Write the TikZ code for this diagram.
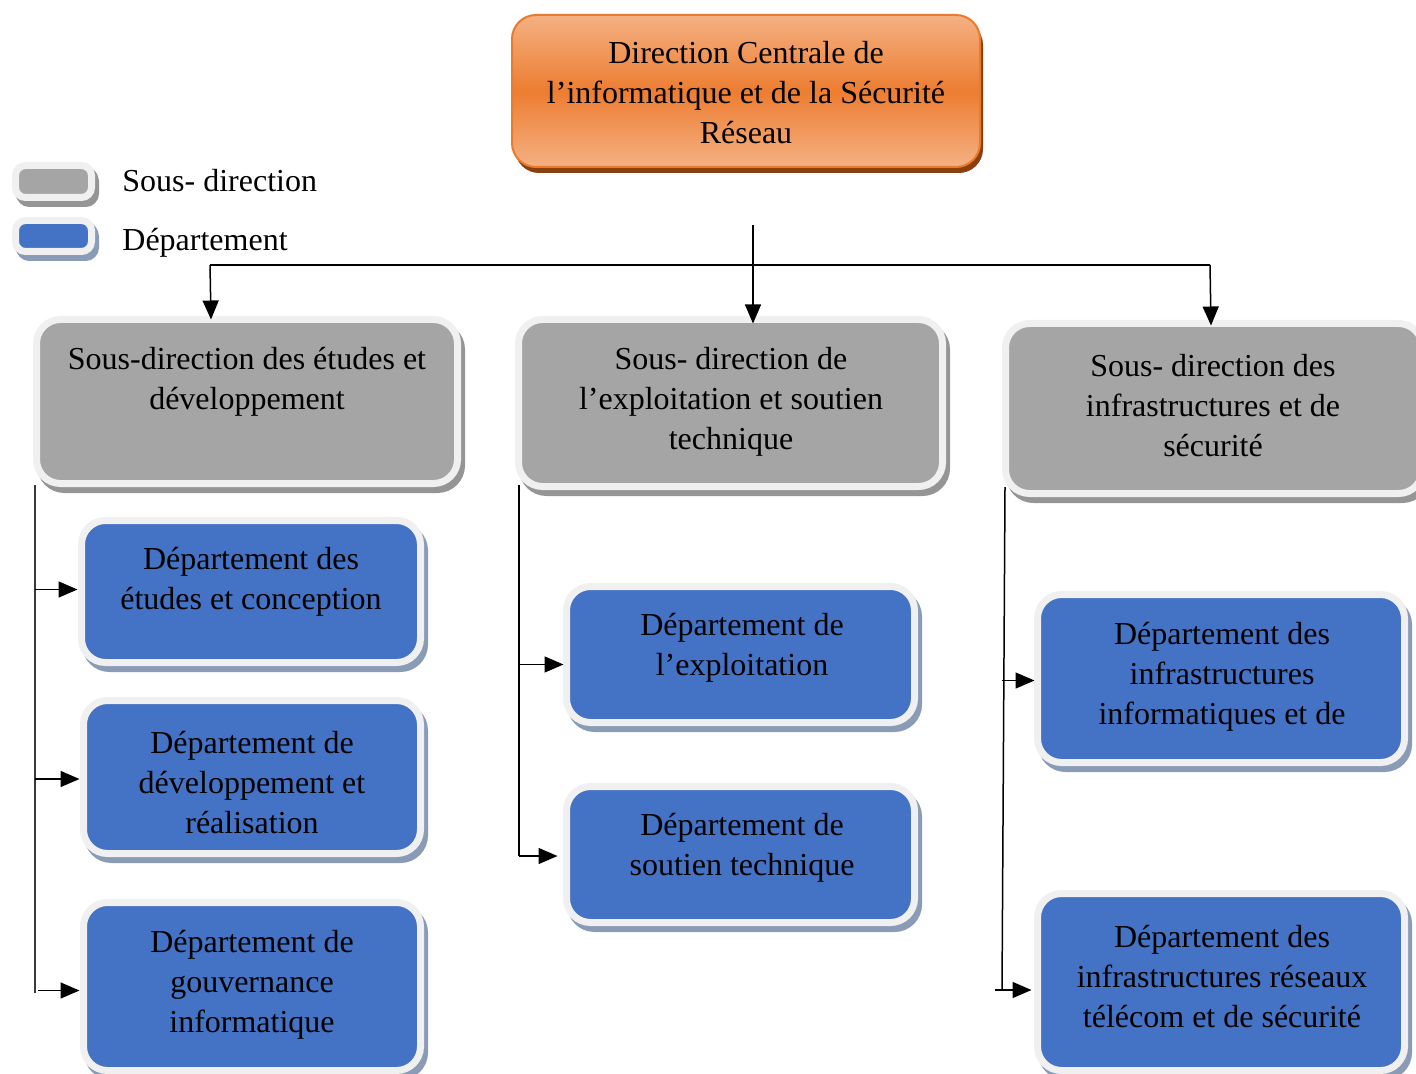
\documentclass[tikz,border=0pt]{standalone}
\usepackage{fontspec}
\setmainfont{Liberation Serif}
\usetikzlibrary{arrows.meta,shadows}

\definecolor{framecol}{HTML}{F0F0F0}
\definecolor{sdfill}{HTML}{A5A5A5}
\definecolor{sdshadow}{HTML}{959595}
\definecolor{depfill}{HTML}{4472C4}
\definecolor{depshadow}{HTML}{8A9BB6}
\definecolor{orlight}{HTML}{F4B183}
\definecolor{ormid}{HTML}{ED7D31}
\definecolor{orborder}{HTML}{E97A2E}
\definecolor{orshadow}{HTML}{8B3F0F}
\definecolor{buscol}{HTML}{3A3A3A}

\tikzset{
  framed/.style={draw=framecol, line width=3.5pt, rounded corners=12pt,
    inner sep=0pt, outer sep=0pt},
  sousdir/.style={framed, fill=sdfill,
    drop shadow={shadow xshift=2pt, shadow yshift=-3pt, fill=sdshadow,
      draw=sdshadow, line width=3.5pt, opacity=1}},
  dept/.style={framed, fill=depfill,
    drop shadow={shadow xshift=2pt, shadow yshift=-3pt, fill=depshadow,
      draw=depshadow, line width=3.5pt, opacity=1}},
  swatchg/.style={sousdir, rounded corners=5pt,
    drop shadow={shadow xshift=1.5pt, shadow yshift=-2pt, fill=sdshadow,
      draw=sdshadow, line width=3.5pt, opacity=1}},
  swatchb/.style={dept, rounded corners=5pt,
    drop shadow={shadow xshift=1.5pt, shadow yshift=-2pt, fill=depshadow,
      draw=depshadow, line width=3.5pt, opacity=1}},
  topbox/.style={draw=orborder, line width=1pt, rounded corners=12pt,
    inner sep=0pt, outer sep=0pt,
    top color=orlight, bottom color=orlight, middle color=ormid,
    drop shadow={shadow xshift=1.5pt, shadow yshift=-3pt, fill=orshadow,
      opacity=1}},
  txt/.style={align=center, font=\fontsize{16}{20}\selectfont, inner sep=0pt},
  legtxt/.style={anchor=west, font=\fontsize{16}{20}\selectfont, inner sep=0pt},
  ln/.style={draw=black, line width=0.75pt},
  bus/.style={draw=buscol, line width=0.75pt},
  arr/.style={ln, -{Triangle[length=9.5pt,width=8pt]}},
}

% box node from its outer frame edges, given in pixel units
\newcommand\boxnode[6]{%
  \pgfmathsetmacro\bw{(#5-#3-7)*0.5}%
  \pgfmathsetmacro\bh{(#6-#4-7)*0.5}%
  \node[#2, minimum width=\bw pt, minimum height=\bh pt] (#1)
    at ({(#3+#5)/2},{(#4+#6)/2}) {};}

\begin{document}
\begin{tikzpicture}[x=0.5pt,y=-0.5pt]
\useasboundingbox (0,0) rectangle (1416,1074);

% central direction
\node[topbox, minimum width=234pt, minimum height=76pt] (top) at (746,91) {};
\node[txt] (toptxt) at (746,93) {Direction Centrale de\\l’informatique et de la Sécurité\\Réseau};

% legend
\boxnode{lg}{swatchg}{12}{162}{95}{201}
\boxnode{lb}{swatchb}{12}{217}{95}{255}
\node[legtxt] (lgt) at (122,181) {Sous- direction};
\node[legtxt] (lbt) at (122,243) {Département};

% sous-directions
\boxnode{g1}{sousdir}{33}{316}{461}{487}
\boxnode{g2}{sousdir}{515}{316}{946}{490}
\boxnode{g3}{sousdir}{1002}{320}{1426}{497}
\node[txt] (g1t) at (247,382) {Sous-direction des études et\\développement};
\node[txt] (g2t) at (731,402) {Sous- direction de\\l’exploitation et soutien\\technique};
\node[txt] (g3t) at (1213,406) {Sous- direction des\\infrastructures et de\\sécurité};

% départements
\boxnode{b1}{dept}{78}{517}{424}{666}
\boxnode{b2}{dept}{80}{697}{424}{857}
\boxnode{b3}{dept}{80}{899}{424}{1074}
\boxnode{b4}{dept}{563}{583}{918}{726}
\boxnode{b5}{dept}{563}{783}{918}{926}
\boxnode{b6}{dept}{1034}{591}{1408}{766}
\boxnode{b7}{dept}{1034}{890}{1408}{1074}
\node[txt] (b1t) at (251,582) {Département des\\études et conception};
\node[txt] (b2t) at (252,783) {Département de\\développement et\\réalisation};
\node[txt] (b3t) at (252,985) {Département de\\gouvernance\\informatique};
\node[txt] (b4t) at (742,648) {Département de\\l’exploitation};
\node[txt] (b5t) at (742,848) {Département de\\soutien technique};
\node[txt] (b6t) at (1222,677) {Département des\\infrastructures\\informatiques et de};
\node[txt] (b7t) at (1222,977) {Département des\\infrastructures réseaux\\télécom et de sécurité};

% links from the central direction
\coordinate (c0) at (753,225);
\coordinate (hl) at (210,265);
\coordinate (hr) at (1210,265);
\draw[arr] (c0) -- ([yshift=-2pt]c0 |- g2.north);
\draw[ln] (hl) -- (hr);
\draw[arr] (hl) -- ([xshift=0.5pt]hl |- g1.north);
\draw[arr] (hr) -- ([xshift=0.5pt,yshift=-1pt]hr |- g3.north);

% links inside each sous-direction
\coordinate (t1) at (35,485);
\coordinate (e1) at (35,993);
\draw[bus] (t1) -- (e1);
\draw[arr] ([yshift=1pt]t1 |- b1.west) -- ([xshift=-2pt,yshift=1pt]b1.west);
\draw[arr] ([yshift=-1pt]t1 |- b2.west) -- ([xshift=-2pt,yshift=-1pt]b2.west);
\draw[arr] ([xshift=1.5pt,yshift=-2pt]t1 |- b3.west) -- ([xshift=-2pt,yshift=-2pt]b3.west);

\coordinate (t2) at (519,485);
\coordinate (e2) at (519,856);
\draw[ln] (t2) -- (e2);
\draw[arr] ([yshift=-5pt]t2 |- b4.west) -- ([xshift=-1.5pt,yshift=-5pt]b4.west);
\draw[arr] (e2) -- ([xshift=-4.5pt]e2 -| b5.west);

\coordinate (t3) at (1005,487);
\coordinate (e3) at (1002,990);
\draw[ln] (t3) -- (e3);
\draw[arr] ([xshift=-1.5pt,yshift=-1pt]t3 |- b6.west) -- ([xshift=-1.5pt,yshift=-1pt]b6.west);
\draw[arr] ([xshift=-3.5pt]e3) -- ([xshift=-3pt]e3 -| b7.west);
\end{tikzpicture}
\end{document}
